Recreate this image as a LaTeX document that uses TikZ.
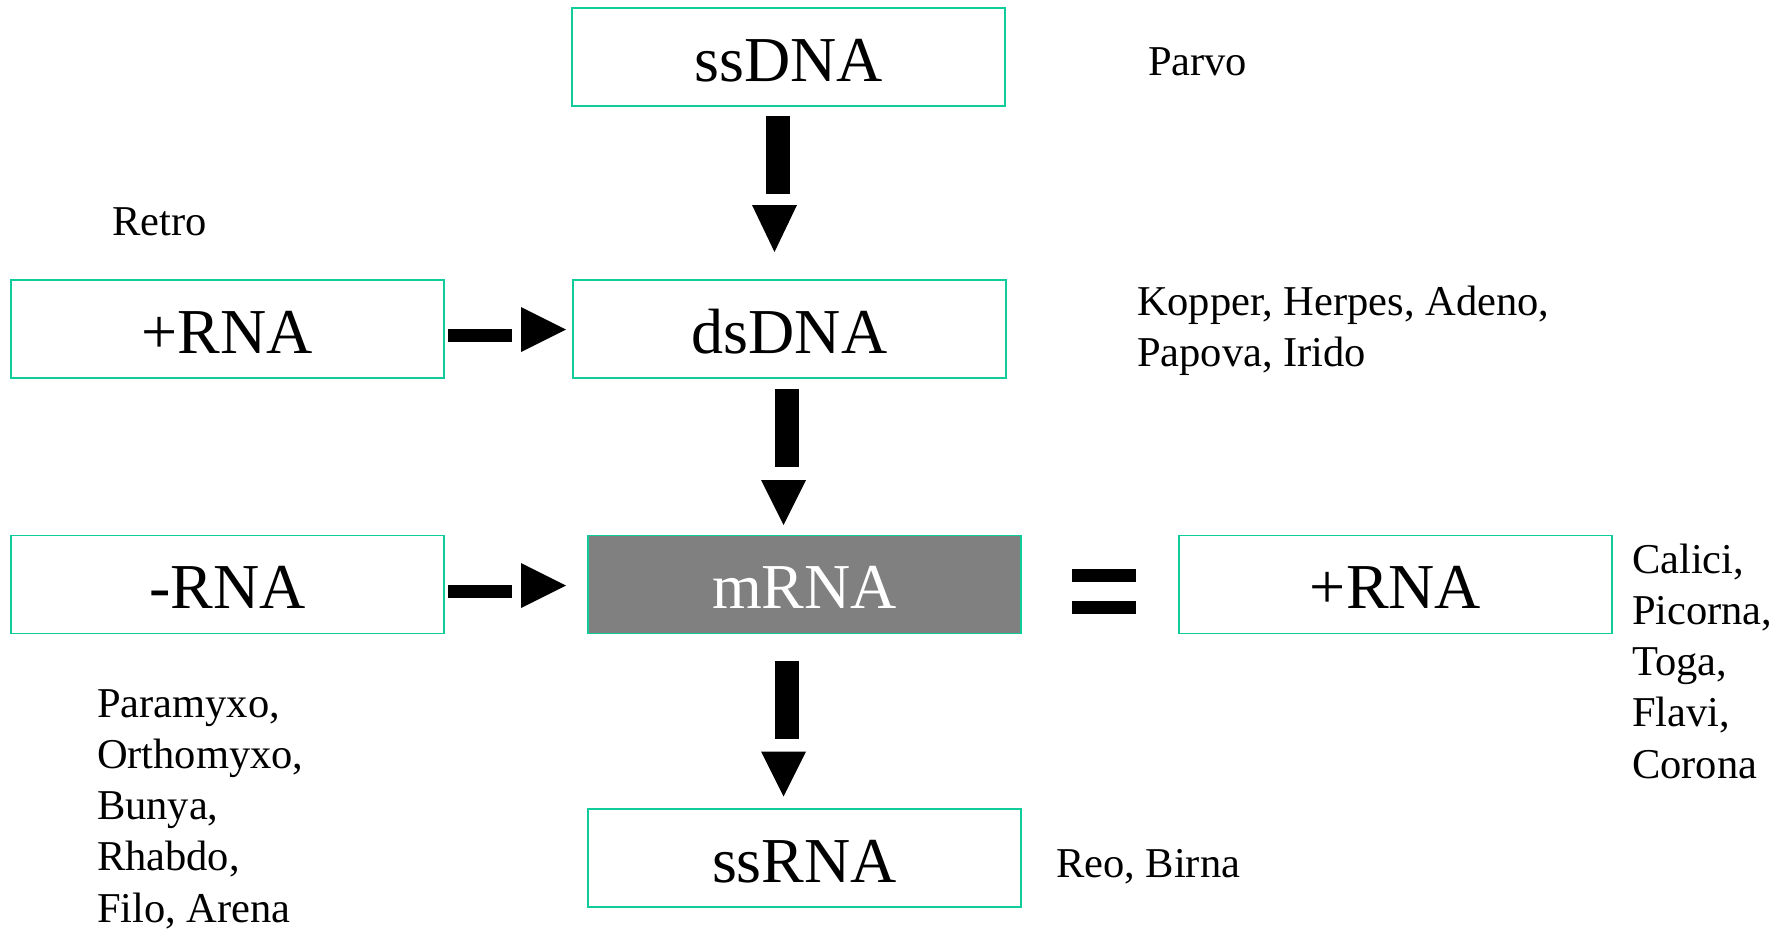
\documentclass[tikz,border=0pt]{standalone}
\usepackage{fontspec}
\setmainfont{Liberation Serif}
\usetikzlibrary{calc}
\definecolor{boxline}{RGB}{16,204,154}
\definecolor{mgray}{RGB}{128,128,128}
\begin{document}
\begin{tikzpicture}[x=1pt,y=-1pt,
  box/.style={draw=boxline,line width=1.8pt,minimum width=433pt,minimum height=98pt,
    inner sep=0pt,outer sep=0pt,font=\fontsize{64}{70}\selectfont,
    text height=48pt,text depth=0pt},
  lbl/.style={anchor=base west,inner sep=0pt,outer sep=0pt,
    font=\fontsize{42.5}{51.3}\selectfont},
  blk/.style={fill=black,draw=none}]
\useasboundingbox (0,0) rectangle (1786,929);

% boxes
\node[box] (ssdna) at (788.5,57) {ssDNA};
\node[box] (prnaL) at (227.5,329) {+RNA};
\node[box] (dsdna) at (789.5,329) {dsDNA};
\node[box] (nrna) at (227.5,584.5) {-RNA};
\node[box,fill=mgray,text=white] (mrna) at (804.5,584.5) {mRNA};
\node[box] (prnaR) at (1395.5,584.5) {+RNA};
\node[box] (ssrna) at (804.5,858) {ssRNA};

% ssDNA -> dsDNA
\fill[blk] ($(ssdna.south)+(-22.5,10)$) rectangle ($(ssdna.south)+(1.5,88)$);
\fill[blk] ($(ssdna.south)+(-36.5,99)$) -- ($(ssdna.south)+(8.5,99)$) -- ($(ssdna.south)+(-14,146)$) -- cycle;
% dsDNA -> mRNA
\fill[blk] ($(dsdna.south)+(-14.5,11)$) rectangle ($(dsdna.south)+(9.5,89)$);
\fill[blk] ($(dsdna.south)+(-28.5,102)$) -- ($(dsdna.south)+(16.5,102)$) -- ($(dsdna.south)+(-6,147)$) -- cycle;
% mRNA -> ssRNA
\fill[blk] ($(mrna.south)+(-29.5,27)$) rectangle ($(mrna.south)+(-5.5,105)$);
\fill[blk] ($(mrna.south)+(-43.5,118)$) -- ($(mrna.south)+(1.5,118)$) -- ($(mrna.south)+(-21,163)$) -- cycle;
% +RNA -> dsDNA
\fill[blk] ($(prnaL.east)+(4,0)$) rectangle ($(prnaL.east)+(68,13)$);
\fill[blk] ($(prnaL.east)+(77,-22)$) -- ($(prnaL.east)+(77,23)$) -- ($(prnaL.east)+(122,0.5)$) -- cycle;
% -RNA -> mRNA
\fill[blk] ($(nrna.east)+(4,0.5)$) rectangle ($(nrna.east)+(68,13.5)$);
\fill[blk] ($(nrna.east)+(77,-21.5)$) -- ($(nrna.east)+(77,23.5)$) -- ($(nrna.east)+(122,1)$) -- cycle;
% mRNA = +RNA
\fill[blk] ($(mrna.east)+(51,-15.5)$) rectangle ($(mrna.east)+(115,-2.5)$);
\fill[blk] ($(mrna.east)+(51,16.5)$) rectangle ($(mrna.east)+(115,29.5)$);

% labels
\node[lbl] (parvo) at (1148,75) {Parvo};
\node[lbl] (retro) at (112,235) {Retro};
\node[lbl] (kopper) at (1137,315) {\begin{tabular}[t]{@{}l@{}}Kopper, Herpes, Adeno,\\Papova, Irido\end{tabular}};
\node[lbl] (calici) at (1632,573) {\begin{tabular}[t]{@{}l@{}}Calici,\\Picorna,\\Toga,\\Flavi,\\Corona\end{tabular}};
\node[lbl] (paramyxo) at (97,717) {\begin{tabular}[t]{@{}l@{}}Paramyxo,\\Orthomyxo,\\Bunya,\\Rhabdo,\\Filo, Arena\end{tabular}};
\node[lbl] (reo) at (1056,877) {Reo, Birna};
\end{tikzpicture}
\end{document}
